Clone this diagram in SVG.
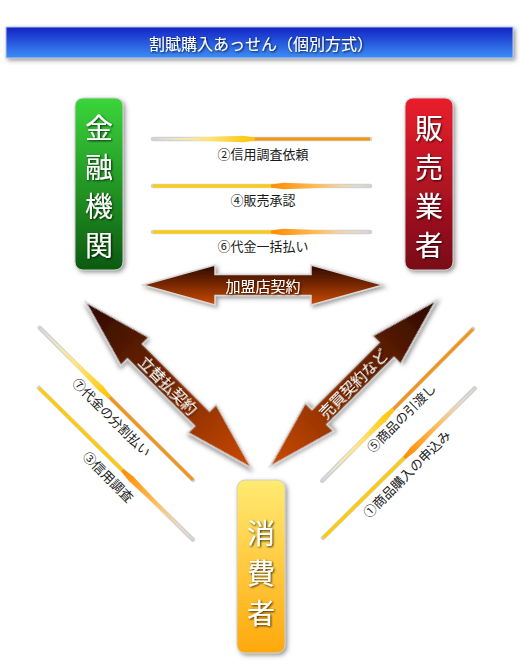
<svg xmlns="http://www.w3.org/2000/svg" width="523" height="664" viewBox="0 0 523 664">
<defs>
<style>
.jp{font-family:"Noto Sans CJK JP","Noto Sans",sans-serif}
.box-t{font-size:28px;fill:#fff;text-anchor:middle;dominant-baseline:central;filter:url(#tsh)}
.lbl{font-size:13px;fill:#1a1a1a;text-anchor:middle;dominant-baseline:central}
.big-t{font-size:15px;fill:#fff;text-anchor:middle;dominant-baseline:central;filter:url(#tsh)}
.halo{stroke:#d2d2d2;stroke-width:4.5;stroke-linecap:round}
.tail-y{stroke:#ffcc00;stroke-width:3}
.tail-o{stroke:#f59312;stroke-width:3}
.big{stroke:#d8d8d8;stroke-width:1.5;filter:url(#sh)}
</style>
<filter id="sh" x="-20%" y="-20%" width="140%" height="140%"><feDropShadow dx="2" dy="2" stdDeviation="2" flood-color="#555" flood-opacity="0.6"/></filter>
<filter id="tsh" x="-20%" y="-20%" width="140%" height="140%"><feDropShadow dx="1" dy="1" stdDeviation="0.8" flood-color="#000" flood-opacity="0.8"/></filter>
<linearGradient id="gBlue" x1="0" y1="0" x2="0" y2="1"><stop offset="0" stop-color="#1222c4"/><stop offset="1" stop-color="#3d8ef6"/></linearGradient>
<linearGradient id="gGreen" x1="0" y1="0" x2="0" y2="1"><stop offset="0" stop-color="#3bd53b"/><stop offset="1" stop-color="#0c5a10"/></linearGradient>
<linearGradient id="gRed" x1="0" y1="0" x2="0" y2="1"><stop offset="0" stop-color="#ea1f2c"/><stop offset="1" stop-color="#780818"/></linearGradient>
<linearGradient id="gYel" x1="0" y1="0" x2="0" y2="1"><stop offset="0" stop-color="#ffeb72"/><stop offset="1" stop-color="#ffa80c"/></linearGradient>
<linearGradient id="gBrV" x1="0" y1="0" x2="0" y2="1"><stop offset="0" stop-color="#2a0800"/><stop offset="1" stop-color="#cc4a00"/></linearGradient>
<linearGradient id="gBrH" x1="0" y1="0" x2="1" y2="0"><stop offset="0" stop-color="#2a0800"/><stop offset="1" stop-color="#cc4a00"/></linearGradient>
<linearGradient id="gBrHr" x1="0" y1="0" x2="1" y2="0"><stop offset="0" stop-color="#cc4a00"/><stop offset="1" stop-color="#2a0800"/></linearGradient>
<linearGradient id="hO" x1="0" y1="0" x2="1" y2="0"><stop offset="0" stop-color="#ff8c00"/><stop offset="0.5" stop-color="#ffc060"/><stop offset="1" stop-color="#ececec"/></linearGradient>
<linearGradient id="hY" x1="0" y1="0" x2="1" y2="0"><stop offset="0" stop-color="#ffc400"/><stop offset="0.5" stop-color="#ffe680"/><stop offset="1" stop-color="#ececec"/></linearGradient>
<polygon id="bigH" points="-120,0 -48,-20 -48,-10.5 48,-10.5 48,-20 120,0 48,20 48,10.5 -48,10.5 -48,20"/>
<polygon id="bigD" points="-117.5,0 -47.5,-20 -47.5,-10.5 47.5,-10.5 47.5,-20 117.5,0 47.5,20 47.5,10.5 -47.5,10.5 -47.5,20"/>
</defs>
<rect width="523" height="664" fill="#fff"/>

<g id="title">
<rect x="6" y="27" width="507" height="31" fill="url(#gBlue)" stroke="#b8c8e8" stroke-width="1" filter="url(#sh)"/>
<text x="261" y="43" class="jp" font-size="16" fill="#fff" text-anchor="middle" dominant-baseline="central" filter="url(#tsh)">割賦購入あっせん（個別方式）</text>
</g>

<g id="kinyu">
<rect x="75" y="98" width="48" height="172" rx="8" fill="url(#gGreen)" stroke="#d0d0d0" stroke-width="1" filter="url(#sh)"/>
<text class="jp box-t" x="99" y="127">金</text>
<text class="jp box-t" x="99" y="166">融</text>
<text class="jp box-t" x="99" y="205">機</text>
<text class="jp box-t" x="99" y="244">関</text>
</g>

<g id="hanbai">
<rect x="405" y="98" width="48" height="172" rx="8" fill="url(#gRed)" stroke="#d0d0d0" stroke-width="1" filter="url(#sh)"/>
<text class="jp box-t" x="429" y="127">販</text>
<text class="jp box-t" x="429" y="166">売</text>
<text class="jp box-t" x="429" y="205">業</text>
<text class="jp box-t" x="429" y="244">者</text>
</g>

<g id="shohi">
<rect x="237" y="480" width="48" height="173" rx="8" fill="url(#gYel)" stroke="#d0d0d0" stroke-width="1" filter="url(#sh)"/>
<text class="jp box-t" x="261" y="532">消</text>
<text class="jp box-t" x="261" y="572">費</text>
<text class="jp box-t" x="261" y="612">者</text>
</g>

<g id="connectors">
<g transform="translate(263,285)">
<use href="#bigH" fill="url(#gBrV)" class="big"/>
<text class="jp big-t" x="0" y="0">加盟店契約</text>
</g>
<g transform="translate(168.5,385) rotate(45)">
<use href="#bigD" fill="url(#gBrH)" class="big"/>
<text class="jp big-t" x="0" y="-1">立替払契約</text>
</g>
<g transform="translate(353,383.5) rotate(-45)">
<use href="#bigD" fill="url(#gBrHr)" class="big"/>
<text class="jp big-t" x="0" y="-1">売買契約など</text>
</g>

<g transform="translate(370,139) rotate(180)">
<line x1="0" y1="0" x2="217" y2="0" class="halo"/>
<line x1="0" y1="0" x2="127" y2="0" class="tail-o"/>
<polygon points="115,-1.5 127,-3.2 217,0 127,3.2 115,1.5" fill="url(#hY)"/>
</g>
<g transform="translate(153,186)">
<line x1="0" y1="0" x2="217" y2="0" class="halo"/>
<line x1="0" y1="0" x2="130" y2="0" class="tail-y"/>
<polygon points="118,-1.5 130,-3.2 217,0 130,3.2 118,1.5" fill="url(#hO)"/>
</g>
<g transform="translate(153,232)">
<line x1="0" y1="0" x2="217" y2="0" class="halo"/>
<line x1="0" y1="0" x2="130" y2="0" class="tail-y"/>
<polygon points="118,-1.5 130,-3.2 217,0 130,3.2 118,1.5" fill="url(#hO)"/>
</g>
<g transform="translate(193,480) rotate(-135.2)">
<line x1="0" y1="0" x2="216" y2="0" class="halo"/>
<line x1="0" y1="0" x2="129" y2="0" class="tail-o"/>
<polygon points="117,-1.5 129,-3.2 216,0 129,3.2 117,1.5" fill="url(#hY)"/>
</g>
<g transform="translate(39,388) rotate(44.6)">
<line x1="0" y1="0" x2="216" y2="0" class="halo"/>
<line x1="0" y1="0" x2="129" y2="0" class="tail-y"/>
<polygon points="117,-1.5 129,-3.2 216,0 129,3.2 117,1.5" fill="url(#hO)"/>
</g>
<g transform="translate(473,329) rotate(134.8)">
<line x1="0" y1="0" x2="214" y2="0" class="halo"/>
<line x1="0" y1="0" x2="125" y2="0" class="tail-o"/>
<polygon points="113,-1.5 125,-3.2 214,0 125,3.2 113,1.5" fill="url(#hY)"/>
</g>
<g transform="translate(323,538) rotate(-44.6)">
<line x1="0" y1="0" x2="213" y2="0" class="halo"/>
<line x1="0" y1="0" x2="126" y2="0" class="tail-y"/>
<polygon points="114,-1.5 126,-3.2 213,0 126,3.2 114,1.5" fill="url(#hO)"/>
</g>

<text class="jp lbl" x="263" y="153">②信用調査依頼</text>
<text class="jp lbl" x="263" y="199">④販売承認</text>
<text class="jp lbl" x="263" y="245">⑥代金一括払い</text>
<text class="jp lbl" transform="translate(112,417) rotate(45)">⑦代金の分割払い</text>
<text class="jp lbl" transform="translate(108.5,476.5) rotate(45)">③信用調査</text>
<text class="jp lbl" transform="translate(401,417.5) rotate(-45)">⑤商品の引渡し</text>
<text class="jp lbl" transform="translate(406.5,473.5) rotate(-45)">①商品購入の申込み</text>
</g>
</svg>
